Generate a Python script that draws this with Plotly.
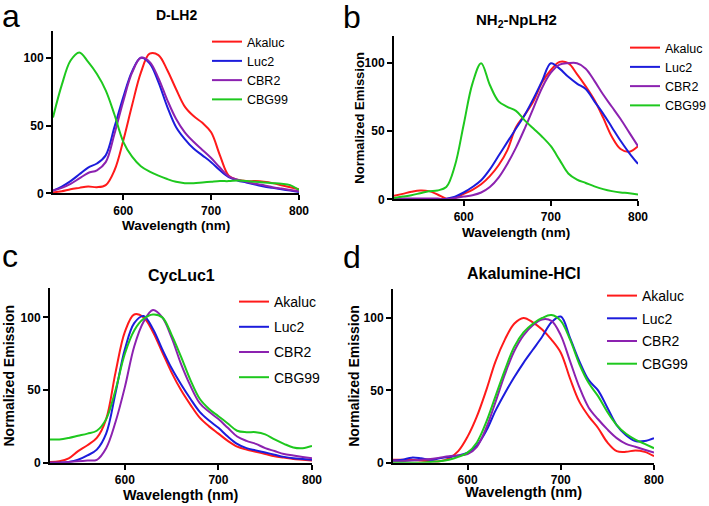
import plotly.graph_objects as go

W, H = 709, 506

# wavelength grid (nm)
wl = [520, 530, 540, 550, 560, 570, 580, 590, 600, 610, 620, 630, 640, 650, 660,
      670, 680, 690, 700, 710, 720, 730, 740, 750, 760, 770, 780, 790, 800]

names = ['Akaluc', 'Luc2', 'CBR2', 'CBG99']
colors = ['#ff1a1a', '#1c1cdc', '#8c22b0', '#1ec81e']

# panel a - D-LH2
a_akaluc = [0.5, 1.5, 3, 4, 5, 4.5, 6, 17, 39, 65, 89, 103, 102, 91, 77,
            64, 57, 52, 45, 28, 13, 10, 9, 9, 8.5, 7.5, 6, 4.5, 3]
a_luc2 = [2, 5, 9, 14, 19, 22, 28, 49, 71, 90, 100, 96, 82, 64, 49,
          40, 33, 28, 23, 17, 12, 9.5, 8, 6.5, 5, 4, 3, 2, 1]
a_cbr2 = [2, 4, 7, 11, 15, 17, 23, 44, 68, 89, 100, 97, 85, 69, 55,
          45, 38, 32, 26, 19, 12.5, 10, 8.5, 7, 6, 4.5, 3.5, 2.5, 1.5]
a_cbg99 = [56, 80, 98, 104, 97, 88, 76, 58, 38, 27, 20, 16, 13, 10.5, 8.5,
           7.5, 7.5, 8, 8.5, 9, 9, 9.5, 9, 8.5, 8, 7.5, 7, 6, 2.5]

# panel b - NH2-NpLH2
b_akaluc = [2.5, 4, 5.5, 6.5, 6, 3.5, 0.5, 1, 4, 7, 11, 17, 25, 36, 53,
            62, 72, 86, 95, 101, 100, 92, 83, 73, 60, 46, 37, 35, 39]
b_luc2 = [0, 0, 0, 0, 0, 0, 0.5, 2, 5, 9, 14, 22, 32, 42, 52,
          62, 74, 87, 100, 96, 90, 85, 81, 72, 63, 53, 43, 34, 26]
b_cbr2 = [0.5, 0.5, 0.5, 0.5, 0.5, 0.5, 0, 1, 2, 3, 5, 9, 16, 26, 38,
          52, 67, 82, 93, 99, 100, 100, 96, 87, 77, 68, 59, 49, 39]
b_cbg99 = [1, 2, 3, 4.5, 6, 6.5, 9, 25, 55, 85, 100, 84, 72, 68, 65,
           58, 52, 46, 39, 29, 19, 14.5, 12, 9.5, 7.5, 6, 5, 4.5, 3.5]

# panel c - CycLuc1
c_akaluc = [0.5, 1, 3, 8, 12, 17, 30, 62, 90, 102, 100, 90, 76, 62, 50,
            40, 31, 25, 20, 15, 11, 9, 7.5, 6, 4.5, 3.5, 2.5, 2, 1.5]
c_luc2 = [0, 0, 0.5, 2, 5, 9, 20, 48, 78, 96, 101, 92, 78, 65, 54,
          44, 35, 29, 24, 18, 13, 10, 8.5, 7, 5.5, 4, 3, 2.5, 2]
c_cbr2 = [0, 0, 0.5, 1, 1.5, 2, 10, 28, 52, 80, 97, 105, 100, 86, 68,
          53, 41, 35, 30, 24, 18, 15, 13, 10, 8, 6, 5, 4, 3]
c_cbg99 = [16, 16, 17, 18.5, 20, 22, 30, 50, 75, 91, 99, 102, 100, 88, 73,
           57, 44, 37, 32, 27, 22, 21, 21, 19.5, 16, 13, 10.5, 10, 11.5]

# panel d - Akalumine-HCl
d_akaluc = [2, 2, 2, 1.5, 1, 1, 3, 8, 18, 32, 50, 70, 85, 96, 100,
            97, 92, 85, 76, 58, 42, 32, 24, 14, 8, 7.5, 8.5, 7.5, 4.5]
d_luc2 = [1.5, 2, 3.5, 3, 2, 3, 4, 5, 7, 12, 22, 36, 48, 59, 69,
          78, 87, 97, 101, 86, 70, 57, 50, 38, 26, 19, 15, 15, 17]
d_cbr2 = [1, 1, 1.5, 2, 2.5, 3.5, 4.5, 5, 6, 11, 24, 42, 61, 77, 88,
          95, 99, 98, 88, 70, 52, 38, 30, 23, 17, 13, 11, 9, 7]
d_cbg99 = [0, 0, 0, 0, 0.5, 1, 2, 4, 7, 14, 28, 46, 64, 80, 90,
           96, 100, 102, 98, 85, 68, 55, 46, 35, 26, 20, 16, 13, 10]

panels = [
    dict(key='a', title='D-LH2', series=[a_akaluc, a_luc2, a_cbr2, a_cbg99],
         box=(53, 299, 30.7, 193.3), tsize=14, title_y=15,
         xt_y=225, xt_size=13.5, yt=None,
         leg=(207, 27, 12.5, 0)),
    dict(key='b', title='NH<sub>2</sub>-NpLH2', series=[b_akaluc, b_luc2, b_cbr2, b_cbg99],
         box=(394, 638, 36, 199.3), tsize=15, title_y=21,
         xt_y=232, xt_size=13.5, yt=(360, 13),
         leg=(625, 33, 12.5, 0)),
    dict(key='c', title='CycLuc1', series=[c_akaluc, c_luc2, c_cbr2, c_cbg99],
         box=(50, 312, 288.3, 462.7), tsize=16, title_y=275,
         xt_y=495, xt_size=14.4, yt=(8, 14),
         leg=(234, 286, 14, 4)),
    dict(key='d', title='Akalumine-HCl', series=[d_akaluc, d_luc2, d_cbr2, d_cbg99],
         box=(393, 654, 289, 462.7), tsize=16, title_y=273,
         xt_y=492, xt_size=14.6, yt=(354, 14),
         leg=(602, 280, 14, 1.5)),
]

FONT = 'Liberation Sans, Arial, sans-serif'


def px(x):
    return x / W


def py(y):
    return 1 - y / H


fig = go.Figure()
annotations = []
layout = dict(
    width=W, height=H,
    margin=dict(l=0, r=0, t=0, b=0, autoexpand=False),
    paper_bgcolor='white', plot_bgcolor='white',
    font=dict(family=FONT, color='black'),
    showlegend=True,
)

for i, p in enumerate(panels):
    n = '' if i == 0 else str(i + 1)
    x0, x1, ytop, ybot = p['box']
    leg_name = 'legend' + n
    for name, col, vals in zip(names, colors, p['series']):
        fig.add_trace(go.Scatter(
            x=wl, y=vals, name=name, mode='lines',
            line=dict(color=col, width=2, shape='spline', smoothing=1.0),
            xaxis='x' + n, yaxis='y' + n, legend=leg_name,
            legendgroup=p['key'] + name,
        ))
    axis_common = dict(showline=True, linecolor='black', linewidth=2,
                       ticks='outside', ticklen=5, tickwidth=2, tickcolor='black',
                       showgrid=False, zeroline=False,
                       tickfont=dict(family=FONT, size=12, color='black', weight='bold'))
    layout['xaxis' + n] = dict(domain=[px(x0), px(x1)], range=[520, 800],
                               tickvals=[600, 700, 800], anchor='y' + n, **axis_common)
    layout['yaxis' + n] = dict(domain=[py(ybot), py(ytop)], range=[0, 120],
                               tickvals=[0, 50, 100], anchor='x' + n, **axis_common)
    lx, ly, lsize, gap = p['leg']
    layout[leg_name] = dict(x=px(lx), y=py(ly), xanchor='left', yanchor='top',
                            bgcolor='rgba(0,0,0,0)', borderwidth=0,
                            tracegroupgap=gap,
                            font=dict(family=FONT, size=lsize, color='black'))
    cx = (x0 + x1) / 2
    # panel title
    annotations.append(dict(text='<b>' + p['title'] + '</b>', x=px(cx), y=py(p['title_y']),
                            xref='paper', yref='paper', showarrow=False,
                            xanchor='center', yanchor='middle',
                            font=dict(family=FONT, size=p['tsize'], color='black')))
    # x axis title
    annotations.append(dict(text='<b>Wavelength (nm)</b>', x=px(cx), y=py(p['xt_y']),
                            xref='paper', yref='paper', showarrow=False,
                            xanchor='center', yanchor='middle',
                            font=dict(family=FONT, size=p['xt_size'], color='black')))
    # y axis title
    if p['yt']:
        annotations.append(dict(text='<b>Normalized Emission</b>', x=px(p['yt'][0]),
                                y=py((ytop + ybot) / 2), xref='paper', yref='paper',
                                showarrow=False, textangle=-90,
                                xanchor='center', yanchor='middle',
                                font=dict(family=FONT, size=p['yt'][1], color='black')))

# panel letters
for letter, lx, ly in [('a', 11, 16), ('b', 352, 17), ('c', 10, 256), ('d', 352, 257)]:
    annotations.append(dict(text=letter, x=px(lx), y=py(ly), xref='paper', yref='paper',
                            showarrow=False, xanchor='center', yanchor='middle',
                            font=dict(family=FONT, size=32, color='black')))

layout['annotations'] = annotations
fig.update_layout(**layout)
# drop the default 8px page margin so the figure sits at the window corner
fig.write_html("out.html", config={'displayModeBar': False},
               post_script="document.body.style.margin='0';")
